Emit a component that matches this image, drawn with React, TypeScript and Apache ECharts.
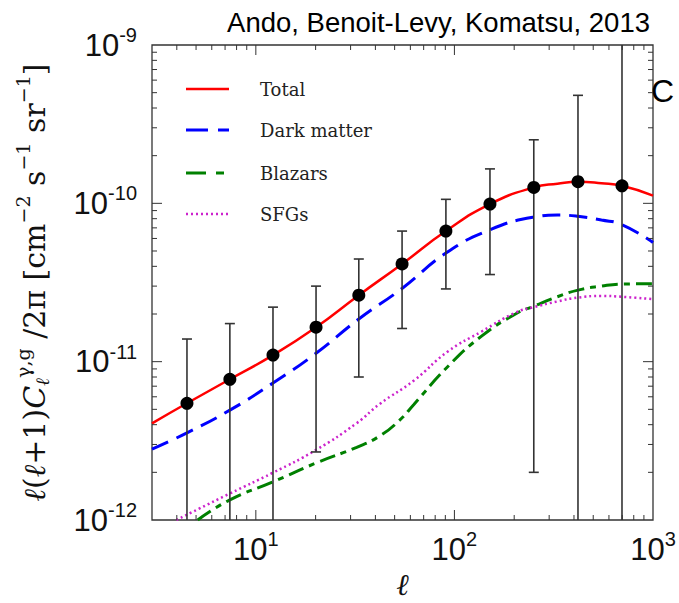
import React, { useEffect, useRef } from "react";
import * as echarts from "echarts";

// Binned cross-correlation measurements (black points with error bars)
const pointEll = [4.5, 7.4, 12.2, 20.1, 33, 54.5, 90.6, 151, 251, 419, 698];
const pointVal = [5.46e-12, 7.74e-12, 1.1e-11, 1.65e-11, 2.63e-11, 4.14e-11, 6.68e-11, 9.9e-11, 1.26e-10, 1.37e-10, 1.29e-10];
const errLow = [null, null, null, 2.69e-12, 8.0e-12, 1.62e-11, 2.88e-11, 3.55e-11, 2.0e-12, null, null];
const errHigh = [1.39e-11, 1.74e-11, 2.21e-11, 3.0e-11, 4.45e-11, 6.68e-11, 1.06e-10, 1.65e-10, 2.52e-10, 4.81e-10, null];

// Model curves
const totalEll = [3, 4.5, 7.4, 12.2, 20.1, 33, 54.5, 90.6, 151, 251, 330, 419, 550, 698, 1000];
const totalVal = [4.08e-12, 5.46e-12, 7.74e-12, 1.1e-11, 1.65e-11, 2.63e-11, 4.14e-11, 6.68e-11, 9.9e-11, 1.26e-10, 1.33e-10, 1.37e-10, 1.34e-10, 1.29e-10, 1.12e-10];

const dmEll = [3, 4.5, 7.4, 12.2, 20.1, 33, 54.5, 90.6, 151, 251, 330, 419, 550, 698, 1000];
const dmVal = [2.8e-12, 3.55e-12, 4.94e-12, 7.33e-12, 1.13e-11, 1.86e-11, 2.9e-11, 4.85e-11, 6.81e-11, 8.18e-11, 8.43e-11, 8.28e-11, 7.85e-11, 7.33e-11, 5.66e-11];

const blzEll = [5.1, 7.4, 12.2, 20.1, 32.2, 42, 53, 62.5, 92.7, 137, 203, 251, 330, 419, 550, 698, 1000];
const blzVal = [1.0e-12, 1.34e-12, 1.74e-12, 2.29e-12, 2.88e-12, 3.39e-12, 4.27e-12, 5.37e-12, 9.33e-12, 1.45e-11, 2.0e-11, 2.24e-11, 2.57e-11, 2.83e-11, 3.0e-11, 3.09e-11, 3.11e-11];

const sfgEll = [3.98, 7.4, 12.2, 20.1, 32.2, 42, 62.5, 92.7, 137, 203, 251, 330, 419, 550, 698, 1000];
const sfgVal = [1.0e-12, 1.47e-12, 1.99e-12, 2.77e-12, 4.09e-12, 5.4e-12, 7.6e-12, 1.16e-11, 1.55e-11, 2.04e-11, 2.21e-11, 2.4e-11, 2.54e-11, 2.6e-11, 2.57e-11, 2.48e-11];

const seriesNames = ["Total", "Dark matter", "Blazars", "SFGs"];
const seriesColors = ["#ff0000", "#0000ff", "#008000", "#cc22cc"];

// Axis ticks
const xMin = 3;
const xMax = 1000;
const yMin = 1e-12;
const yMax = 1e-9;
const mantissas = [2, 3, 4, 5, 6, 7, 8, 9];
const xMajorTicks = [10, 100];
const xDecades = [1, 10, 100];
const yMajorTicks = [1e-11, 1e-10];
const yDecades = [1e-12, 1e-11, 1e-10];

const zip = (a: number[], b: number[]) => a.map((v, i) => [v, b[i]]);

export default function App() {
  const ref = useRef<HTMLDivElement>(null);

  useEffect(() => {
    if (!ref.current) return;
    const chart = echarts.init(ref.current, null, { renderer: "svg" });

    const xMinor: number[] = [];
    xDecades.forEach((d) => mantissas.forEach((m) => {
      const v = m * d;
      if (v > xMin && v < xMax) xMinor.push(v);
    }));
    const yMinor: number[] = [];
    yDecades.forEach((d) => mantissas.forEach((m) => yMinor.push(m * d)));

    const xTickData = [
      ...xMajorTicks.map((v) => [v, yMin, 10]),
      ...xMinor.map((v) => [v, yMin, 5]),
    ];
    const yTickData = [
      ...yMajorTicks.map((v) => [xMin, v, 10]),
      ...yMinor.map((v) => [xMin, v, 5]),
    ];

    const errData = pointEll.map((e, i) => [e, errLow[i] ?? 0, errHigh[i] ?? 0, pointVal[i]]);

    const labelFmt = (v: number) => {
      const l = Math.log10(v);
      const e = Math.round(l);
      if (Math.abs(l - e) > 1e-6) return "";
      return `{b|10}{s|${e}}`;
    };
    const labelRich = {
      b: { fontFamily: "Liberation Sans", fontSize: 31, color: "#111" },
      s: { fontFamily: "Liberation Sans", fontSize: 20, color: "#111", padding: [0, 0, 20, 0] },
    };

    const lineCommon = {
      type: "line" as const,
      showSymbol: false,
      symbol: "none",
      smooth: 0.5,
      silent: true,
      z: 2,
    };

    const tickStyle = { stroke: "#333", lineWidth: 1 };

    // Legend drawn as graphic elements
    const legendY = [89, 130, 173, 214];
    const legendDash: (number[] | null)[] = [null, [22, 10], [20, 10, 8, 10], [2, 3]];
    const legendWidth = [2.5, 3, 3, 2.5];
    const legendGraphics: any[] = [];
    seriesNames.forEach((n, i) => {
      legendGraphics.push({
        type: "line",
        shape: { x1: 186, y1: legendY[i], x2: 229, y2: legendY[i] },
        style: {
          stroke: seriesColors[i],
          lineWidth: legendWidth[i],
          lineDash: legendDash[i] || undefined,
        },
        silent: true,
      });
      legendGraphics.push({
        type: "text",
        x: 260,
        y: legendY[i],
        style: {
          text: n,
          font: '18px "DejaVu Serif"',
          fill: "#222",
          align: "left",
          verticalAlign: "middle",
        },
        silent: true,
      });
    });

    chart.setOption({
      animation: false,
      backgroundColor: "#fff",
      grid: {
        left: 152,
        right: 26,
        top: 45,
        bottom: 83,
        show: true,
        outerBoundsMode: "none",
        containLabel: false,
        borderColor: "#333",
        borderWidth: 1.3,
        backgroundColor: "transparent",
      },
      xAxis: {
        type: "log",
        logBase: 10,
        min: xMin,
        max: xMax,
        name: "ℓ",
        nameLocation: "middle",
        nameGap: 46,
        nameTextStyle: {
          fontFamily: "Liberation Serif",
          fontStyle: "italic",
          fontSize: 30,
          lineHeight: 30,
          color: "#111",
        },
        axisLine: { show: false },
        axisTick: { show: false },
        splitLine: { show: false },
        axisLabel: { formatter: labelFmt, rich: labelRich, margin: 9 },
      },
      yAxis: {
        type: "log",
        logBase: 10,
        min: yMin,
        max: yMax,
        name:
          "{i|ℓ}{n|(}{i|ℓ}{n|+1)}{i|C}{sb|ℓ}{sp|γ,g}{n| /2π [cm}{sp|−2}{n| s}{sp|−1}{n| sr}{sp|−1}{n|]}",
        nameLocation: "middle",
        nameRotate: 90,
        nameGap: 96,
        nameTextStyle: {
          rich: {
            n: { fontFamily: "DejaVu Serif", fontSize: 30, color: "#111" },
            i: { fontFamily: "DejaVu Serif", fontStyle: "italic", fontSize: 30, color: "#111" },
            sb: { fontFamily: "DejaVu Serif", fontStyle: "italic", fontSize: 19, color: "#111", padding: [14, 0, 0, 0] },
            sp: { fontFamily: "DejaVu Serif", fontSize: 19, color: "#111", padding: [0, 0, 24, 0] },
          },
        },
        axisLine: { show: false },
        axisTick: { show: false },
        splitLine: { show: false },
        axisLabel: { formatter: labelFmt, rich: labelRich, margin: 15 },
      },
      graphic: [
        {
          type: "text",
          x: 650,
          y: 22,
          style: {
            text: "Ando, Benoit-Levy, Komatsu, 2013",
            font: '27.5px "Liberation Sans"',
            fill: "#000",
            align: "right",
            verticalAlign: "middle",
          },
        },
        {
          type: "text",
          x: 651,
          y: 91,
          style: {
            text: "C",
            font: '32px "Liberation Sans"',
            fill: "#000",
            align: "left",
            verticalAlign: "middle",
          },
        },
        ...legendGraphics,
      ],
      series: [
        {
          ...lineCommon,
          name: "Total",
          data: zip(totalEll, totalVal),
          lineStyle: { color: seriesColors[0], width: 2.5, type: "solid" },
          itemStyle: { color: seriesColors[0] },
          z: 3,
        },
        {
          ...lineCommon,
          name: "Dark matter",
          data: zip(dmEll, dmVal),
          lineStyle: { color: seriesColors[1], width: 3, type: [18, 9] },
          itemStyle: { color: seriesColors[1] },
        },
        {
          ...lineCommon,
          name: "Blazars",
          data: zip(blzEll, blzVal),
          lineStyle: { color: seriesColors[2], width: 3, type: [16, 6, 6, 6] },
          itemStyle: { color: seriesColors[2] },
        },
        {
          ...lineCommon,
          name: "SFGs",
          data: zip(sfgEll, sfgVal),
          lineStyle: { color: seriesColors[3], width: 2.5, type: [2, 3] },
          itemStyle: { color: seriesColors[3] },
        },
        {
          type: "custom",
          name: "errors",
          silent: true,
          z: 4,
          encode: { x: 0, y: 3 },
          data: errData,
          renderItem: (params: any, api: any) => {
            const cs = params.coordSys;
            const top = cs.y;
            const bottom = cs.y + cs.height;
            const e = api.value(0);
            const lo = api.value(1);
            const hi = api.value(2);
            const x = api.coord([e, api.value(3)])[0];
            const children: any[] = [];
            let yLo = bottom;
            let loCap = false;
            if (lo > 0) {
              const p = api.coord([e, lo])[1];
              if (p < bottom) { yLo = p; loCap = true; }
            }
            let yHi = top;
            let hiCap = false;
            if (hi > 0) {
              const p = api.coord([e, hi])[1];
              if (p > top) { yHi = p; hiCap = true; }
            }
            const st = { stroke: "#333", lineWidth: 1.6 };
            children.push({ type: "line", shape: { x1: x, y1: yLo, x2: x, y2: yHi }, style: st });
            if (loCap) children.push({ type: "line", shape: { x1: x - 5, y1: yLo, x2: x + 5, y2: yLo }, style: st });
            if (hiCap) children.push({ type: "line", shape: { x1: x - 5, y1: yHi, x2: x + 5, y2: yHi }, style: st });
            return { type: "group", children };
          },
        },
        {
          type: "scatter",
          name: "points",
          silent: true,
          z: 5,
          symbol: "circle",
          symbolSize: 13,
          itemStyle: { color: "#000", opacity: 1 },
          data: zip(pointEll, pointVal),
        },
        {
          type: "custom",
          name: "xticks",
          silent: true,
          z: 6,
          encode: { x: 0, y: 1 },
          data: xTickData,
          renderItem: (params: any, api: any) => {
            const cs = params.coordSys;
            const x = api.coord([api.value(0), api.value(1)])[0];
            const len = api.value(2);
            const b = cs.y + cs.height;
            return {
              type: "group",
              children: [
                { type: "line", shape: { x1: x, y1: b, x2: x, y2: b - len }, style: tickStyle },
                { type: "line", shape: { x1: x, y1: cs.y, x2: x, y2: cs.y + len }, style: tickStyle },
              ],
            };
          },
        },
        {
          type: "custom",
          name: "yticks",
          silent: true,
          z: 6,
          encode: { x: 0, y: 1 },
          data: yTickData,
          renderItem: (params: any, api: any) => {
            const cs = params.coordSys;
            const y = api.coord([api.value(0), api.value(1)])[1];
            const len = api.value(2);
            const r = cs.x + cs.width;
            return {
              type: "group",
              children: [
                { type: "line", shape: { x1: cs.x, y1: y, x2: cs.x + len, y2: y }, style: tickStyle },
                { type: "line", shape: { x1: r, y1: y, x2: r - len, y2: y }, style: tickStyle },
              ],
            };
          },
        },
      ],
    });

    return () => chart.dispose();
  }, []);

  return (
    <div
      ref={ref}
      style={{ position: "fixed", left: 0, top: 0, width: 679, height: 603, background: "#fff" }}
    />
  );
}
